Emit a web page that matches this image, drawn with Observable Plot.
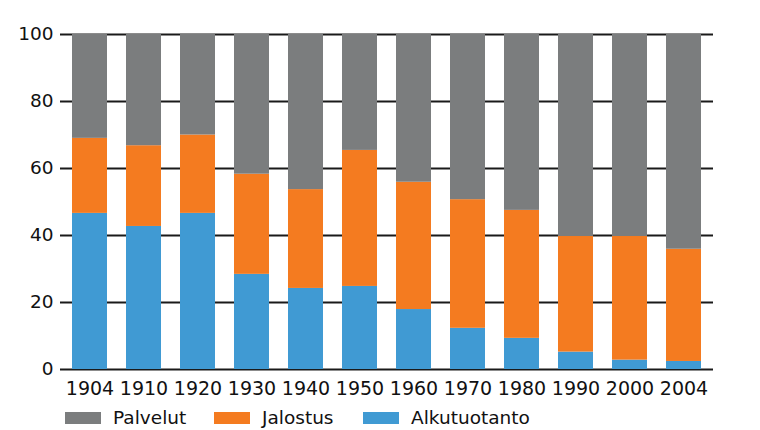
<!DOCTYPE html>
<html>
<head>
<meta charset="utf-8">
<script src="https://cdn.jsdelivr.net/npm/d3@7"></script>
<script src="https://cdn.jsdelivr.net/npm/@observablehq/plot@0.6"></script>
<style>
  body { margin: 0; background: #fff; font-family: "DejaVu Sans", Verdana, sans-serif; }
  #legend { display: flex; align-items: center; height: 25px; padding-left: 65px; font-size: 18.5px; color: #111; }
  #legend .item { display: flex; align-items: center; width: 149px; }
  #legend .sw { width: 36px; height: 12px; margin-right: 12px; flex: none; }
</style>
</head>
<body>
<div id="chart"></div>
<div id="legend"></div>
<script>
const years = ["1904","1910","1920","1930","1940","1950","1960","1970","1980","1990","2000","2004"];
const alkutuotanto = [46.6, 42.7, 46.6, 28.4, 24.2, 24.8, 17.9, 12.3, 9.3, 5.2, 2.8, 2.4];
const jalostus     = [22.4, 24.1, 23.4, 29.9, 29.5, 40.6, 38.0, 38.4, 38.2, 34.5, 36.9, 33.5];
const palvelut     = years.map((_, i) => +(100 - alkutuotanto[i] - jalostus[i]).toFixed(1));
const seriesNames = ["Alkutuotanto", "Jalostus", "Palvelut"];
const legendOrder = ["Palvelut", "Jalostus", "Alkutuotanto"];
const colors = {"Alkutuotanto": "#409ad3", "Jalostus": "#f47b20", "Palvelut": "#7b7d7e"};
const yTicks = [0, 20, 40, 60, 80, 100];

const seriesValues = {"Alkutuotanto": alkutuotanto, "Jalostus": jalostus, "Palvelut": palvelut};
const data = [];
for (const s of seriesNames) {
  years.forEach((y, i) => data.push({year: y, series: s, value: seriesValues[s][i]}));
}

const chart = Plot.plot({
  width: 760,
  height: 405,
  marginTop: 34,
  marginBottom: 36,
  marginLeft: 58,
  marginRight: 44,
  style: {fontFamily: "DejaVu Sans, Verdana, sans-serif", fontSize: "18.5px", color: "#111", background: "#fff"},
  x: {domain: years, paddingInner: 0.345, paddingOuter: 0.1725, label: null},
  y: {domain: [0, 100], label: null},
  color: {domain: seriesNames, range: seriesNames.map(s => colors[s])},
  marks: [
    Plot.ruleY(yTicks, {stroke: "#1a1a1a", strokeWidth: 2, insetLeft: 2, insetRight: 3}),
    Plot.barY(data, Plot.stackY({x: "year", y: "value", fill: "series", order: seriesNames})),
    Plot.axisY({ticks: yTicks, tickSize: 0, tickPadding: 5, label: null, fontSize: "18.5px"}),
    Plot.axisX({tickSize: 0, tickPadding: 12, label: null, fontSize: "19px"})
  ]
});
document.getElementById("chart").appendChild(chart);

const legend = document.getElementById("legend");
for (const s of legendOrder) {
  const item = document.createElement("div");
  item.className = "item";
  const sw = document.createElement("div");
  sw.className = "sw";
  sw.style.background = colors[s];
  const label = document.createElement("span");
  label.textContent = s;
  item.appendChild(sw);
  item.appendChild(label);
  legend.appendChild(item);
}
</script>
</body>
</html>
